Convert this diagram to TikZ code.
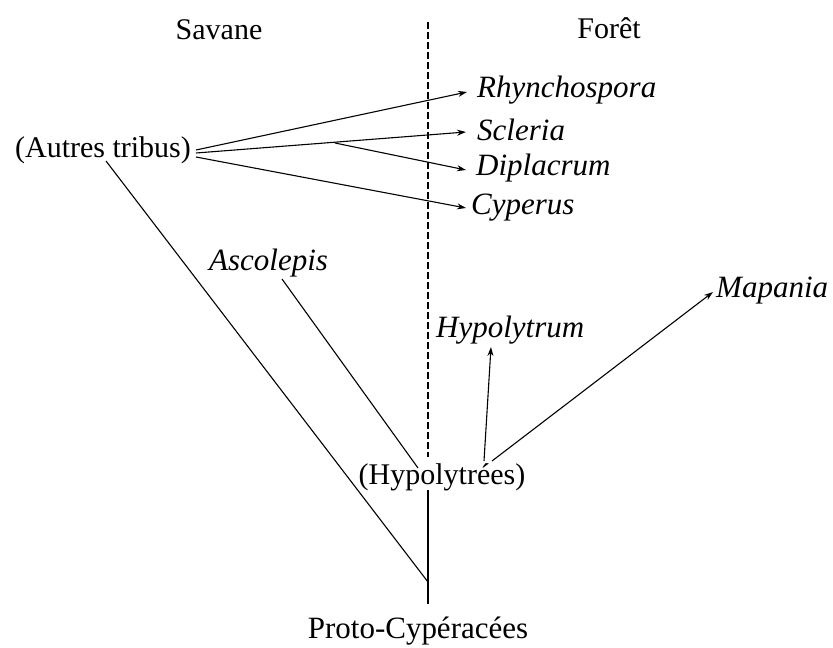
\documentclass[tikz,border=0pt]{standalone}
\usepackage{fontspec}
\setmainfont{Liberation Serif}
\usetikzlibrary{arrows.meta}
\begin{document}
\begin{tikzpicture}[x=1pt,y=-1pt,
  lbl/.style={inner sep=0pt,font=\fontsize{30}{34}\selectfont},
  gen/.style={lbl,font=\fontsize{31}{35}\selectfont\itshape,anchor=west},
  ln/.style={line width=1.1pt,black},
  arr/.style={ln,-{Stealth[length=9pt,width=6pt]}}]
\useasboundingbox (0,0) rectangle (833,648);
% headers
\node[lbl] (sav) at (219,30) {Savane};
\node[lbl] (for) at (609,28) {Forêt};
% divider
\coordinate (dtop) at (428,22);
\coordinate (dbot) at (428,457);
\draw[line width=1.1pt,dash pattern=on 7pt off 3pt] (dtop) -- (dbot);
% nodes
\node[lbl] (autres) at (103,150) {(Autres tribus)};
\node[lbl] (hypo) at (442,477) {(Hypolytrées)};
\node[lbl,font=\fontsize{31}{35}\selectfont] (proto) at (418,631) {Proto-Cypéracées};
\node[gen] (rhy) at (477,90) {Rhynchospora};
\node[gen] (scl) at (477,130) {Scleria};
\node[gen] (dip) at (476,168) {Diplacrum};
\node[gen] (cyp) at (471,208) {Cyperus};
\node[gen] (asc) at (209,263) {Ascolepis};
\node[gen] (hyl) at (436,330) {Hypolytrum};
\node[gen] (map) at (716,291) {Mapania};
% coordinates
\coordinate (a1) at (196,150);
\coordinate (a2) at (196,153);
\coordinate (a3) at (196,157);
\coordinate (abot) at (106,161);
\coordinate (br) at (335,143);
\coordinate (rhyT) at (467,92);
\coordinate (sclT) at (466,132);
\coordinate (dipT) at (466,170);
\coordinate (cypT) at (466,208);
\coordinate (root) at (428,582);
\coordinate (rootT) at (428,490);
\coordinate (rootB) at (428,604);
\coordinate (ascB) at (282,279);
\coordinate (hypL) at (418,468);
\coordinate (hypR1) at (484,461);
\coordinate (hypR2) at (492,461);
\coordinate (hylT) at (491,347);
\coordinate (mapT) at (713,292);
% connectors
\draw[arr] (a1) -- (rhyT);
\draw[arr] (a2) -- (sclT);
\draw[arr] (br) -- (dipT);
\draw[arr] (a3) -- (cypT);
\draw[ln] (abot) -- (root);
\draw[ln] (rootT) -- (rootB);
\draw[ln] (ascB) -- (hypL);
\draw[arr] (hypR1) -- (hylT);
\draw[arr] (hypR2) -- (mapT);
\end{tikzpicture}
\end{document}
